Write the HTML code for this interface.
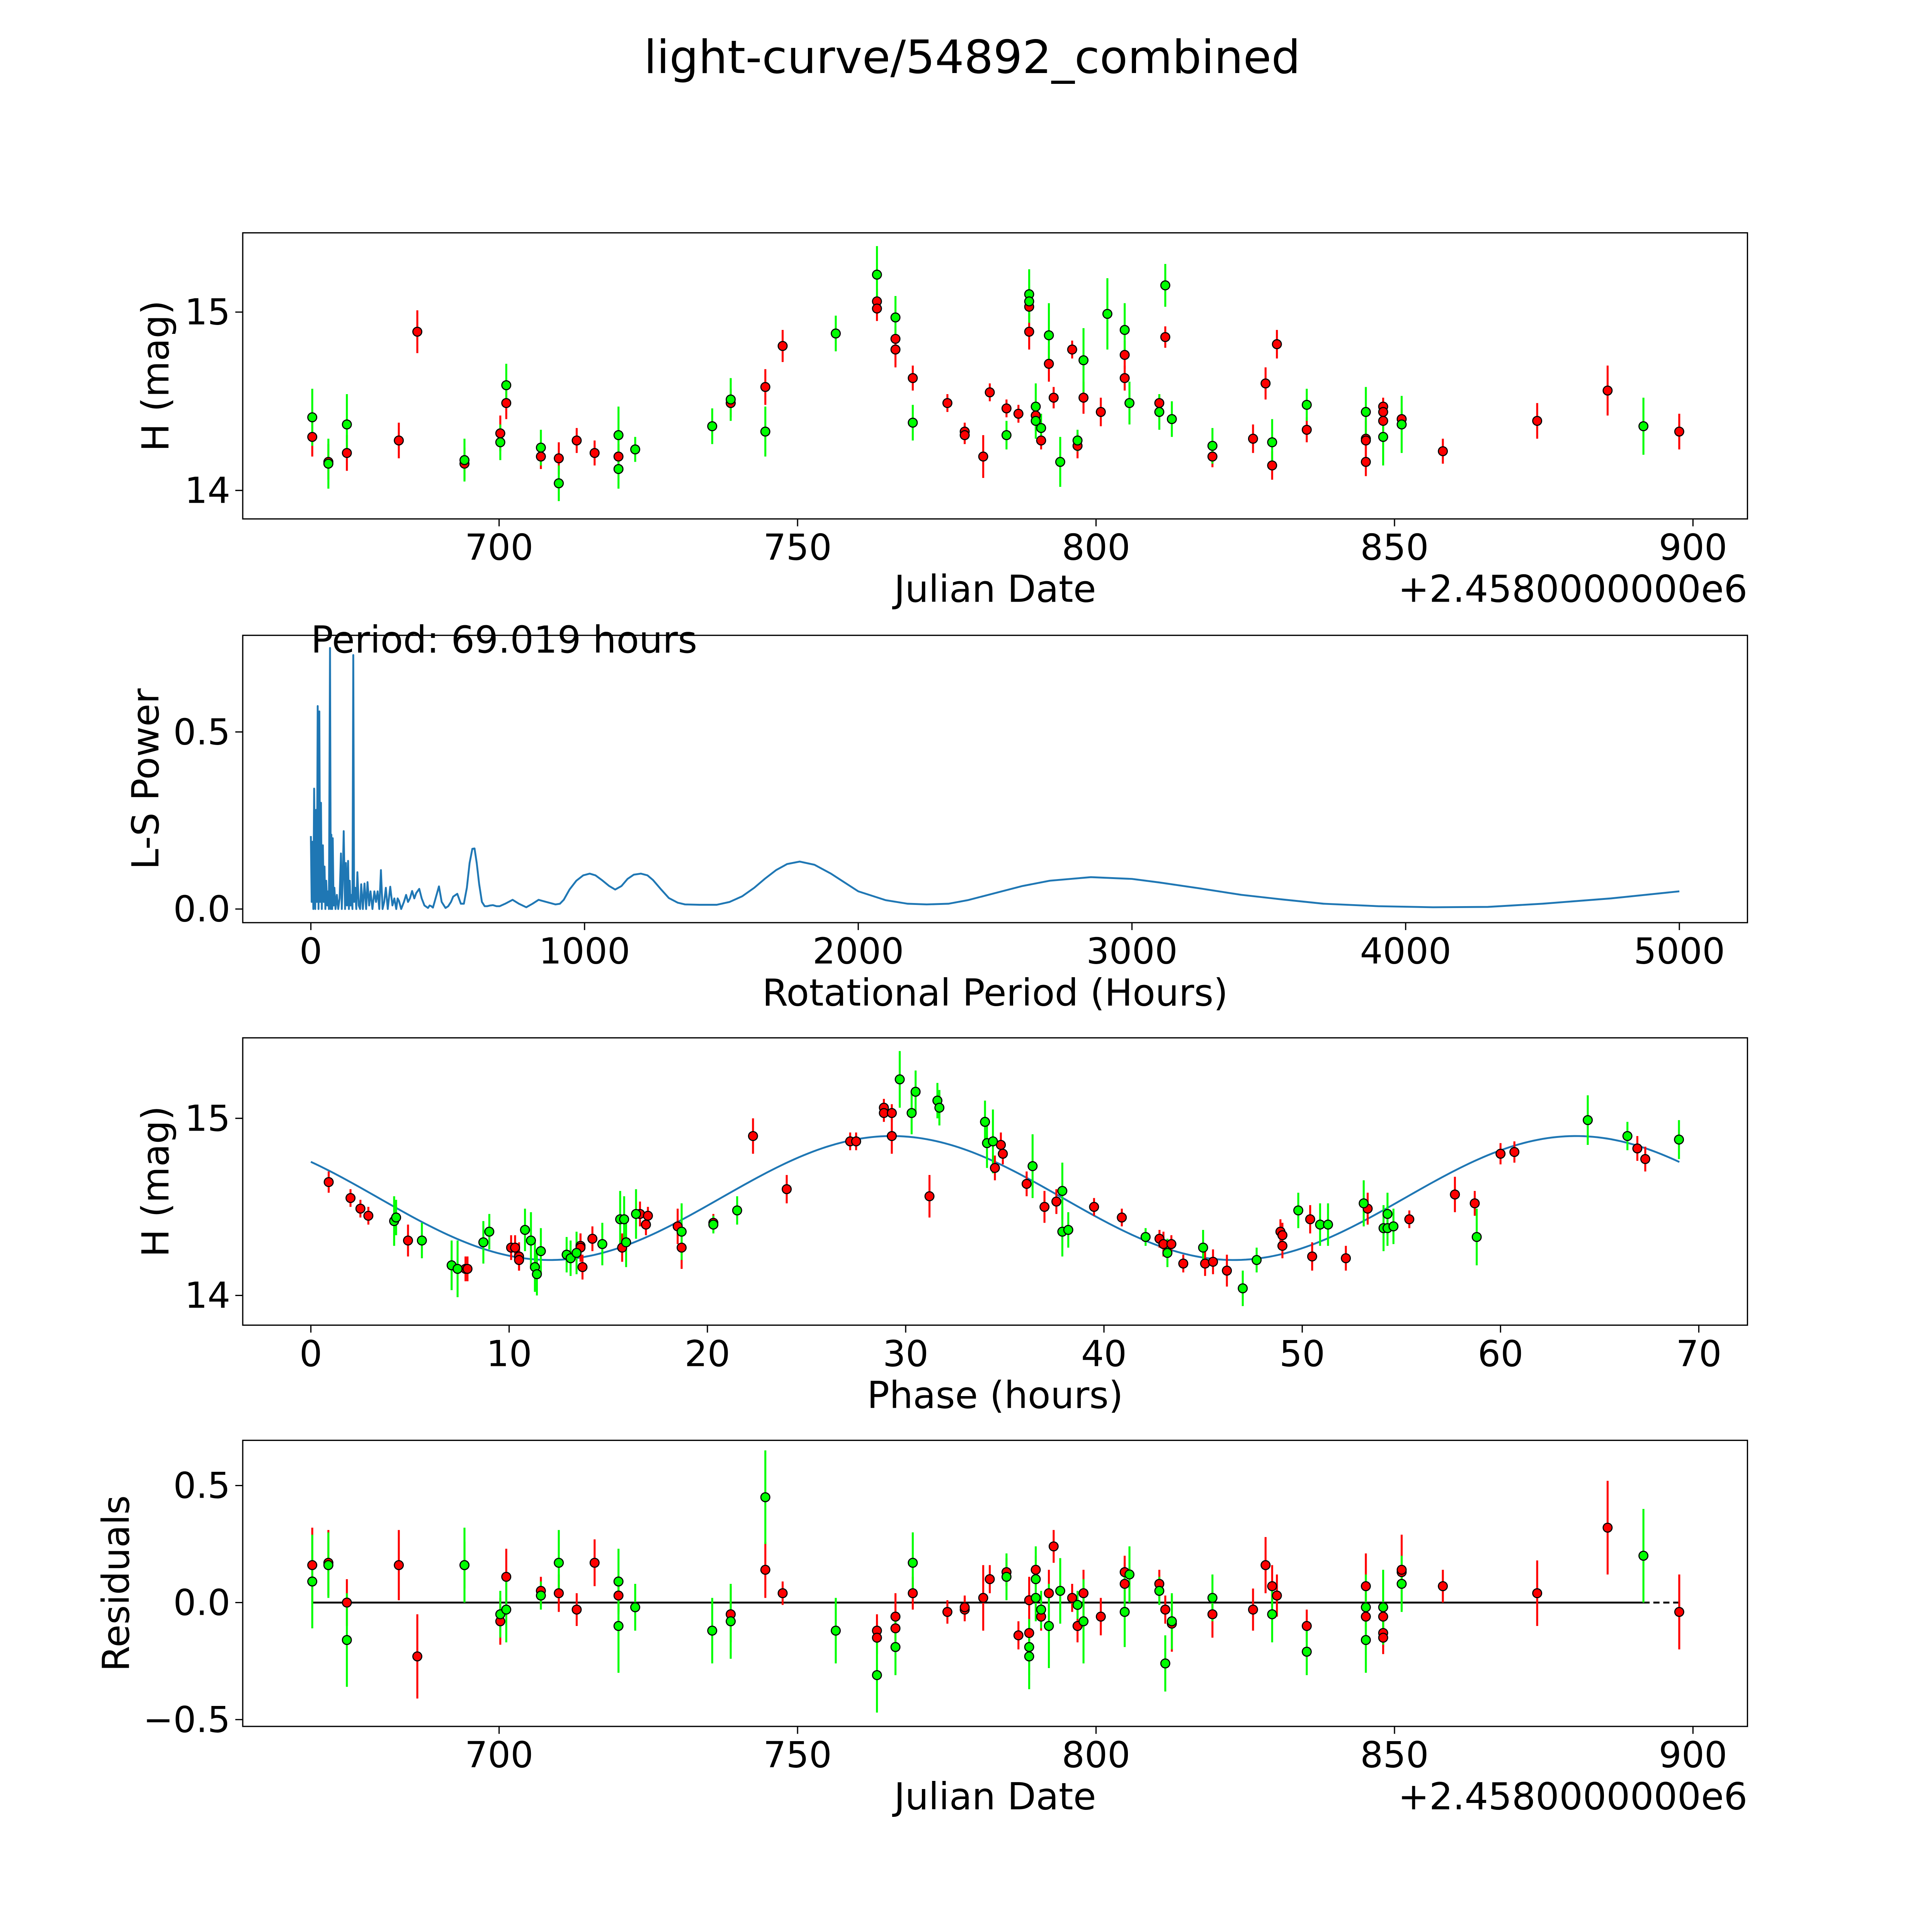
<!DOCTYPE html>
<html><head><meta charset="utf-8"><style>
html,body{margin:0;padding:0;background:#fff;overflow:hidden;width:100%;height:100%}
svg{display:block;width:100vw;height:100vh}
text{font-family:"DejaVu Sans","Liberation Sans",sans-serif;fill:#000}
</style></head><body>
<svg id="fig" xmlns="http://www.w3.org/2000/svg" viewBox="0 0 1560 1560" preserveAspectRatio="xMidYMid meet">
<rect x="0" y="0" width="1560" height="1560" fill="#fff"/>
<text x="785" y="59" font-size="37" text-anchor="middle">light-curve/54892_combined</text>
</svg>
<script>
// ---------- Panel 1: light curve (red / green series) ----------
const jd1R=[668.7,671.4,674.5,683.2,686.3,694.2,700.2,701.2,707,710,713,716,720,738.8,744.6,747.5,763.3,763.3,766.4,766.4,769.3,775.1,778,778,781.1,782.2,785,787,788.8,788.8,789.9,790.8,792.1,792.9,796,796.9,797.9,800.8,804.8,804.8,811.6,810.6,819.5,826.3,828.4,829.5,830.3,835.3,845.2,845.2,845.2,848.1,848.1,848.1,851.2,858.1,873.9,885.7,897.7];
const mag1R=[14.30,14.16,14.21,14.28,14.89,14.15,14.32,14.49,14.19,14.18,14.28,14.21,14.19,14.49,14.58,14.81,15.06,15.02,14.85,14.79,14.63,14.49,14.33,14.31,14.19,14.55,14.46,14.43,15.03,14.89,14.42,14.28,14.71,14.52,14.79,14.25,14.52,14.44,14.76,14.63,14.86,14.49,14.19,14.29,14.60,14.14,14.82,14.34,14.29,14.28,14.16,14.47,14.44,14.39,14.40,14.22,14.39,14.56,14.33];
const err1R=[0.11,0.1,0.1,0.1,0.12,0.09,0.1,0.09,0.07,0.09,0.07,0.07,0.07,0.08,0.1,0.09,0.07,0.07,0.07,0.1,0.07,0.05,0.05,0.05,0.12,0.05,0.05,0.05,0.07,0.1,0.06,0.05,0.1,0.06,0.05,0.07,0.09,0.08,0.08,0.07,0.06,0.05,0.06,0.08,0.09,0.08,0.08,0.07,0.1,0.12,0.08,0.05,0.05,0.07,0.06,0.07,0.1,0.14,0.1];
const jd1G=[668.7,671.4,674.5,694.2,700.2,701.2,707,710,720,720,722.8,735.7,738.8,744.6,756.4,763.3,766.4,769.3,785,788.8,788.8,789.9,789.9,790.8,792.1,794,796.9,797.9,801.9,804.8,805.6,811.6,810.6,812.7,819.5,829.5,835.3,845.2,848.1,851.2,891.7];
const mag1G=[14.41,14.15,14.37,14.17,14.27,14.59,14.24,14.04,14.31,14.12,14.23,14.36,14.51,14.33,14.88,15.21,14.97,14.38,14.31,15.10,15.06,14.47,14.39,14.35,14.87,14.16,14.28,14.73,14.99,14.90,14.49,15.15,14.44,14.40,14.25,14.27,14.48,14.44,14.30,14.37,14.36];
const err1G=[0.16,0.14,0.17,0.12,0.1,0.12,0.1,0.1,0.16,0.11,0.07,0.1,0.12,0.14,0.1,0.16,0.12,0.1,0.08,0.14,0.12,0.13,0.1,0.08,0.18,0.14,0.06,0.18,0.2,0.15,0.12,0.12,0.1,0.1,0.1,0.13,0.09,0.14,0.16,0.16,0.16];
// ---------- Panel 2: periodogram ----------
const per2=[0,3,6,9,12,16,19,22,25,28, 31,34,37,40,44,47,50,53,56,60, 63,66,70,73,75,78,80,83,86,90, 95,100,105,110,113,116,120,125,128,132, 136,139,142,145,148,152,155,158,162,166, 170,175,180,184,190,196,202,207,213,218, 225,232,238,244,250,256,262,268,274,281, 290,298,305,312,317,322,330,340,348,355, 362,370,378,385,396,405,415,428,434,440, 446,452,468,478,492,502,512,520,535,548, 559,570,580,590,598,606,615,625,635,644, 655,665,678,690,710,737,760,787,810,832, 860,894,910,924,945,970,995,1019,1040,1063, 1090,1112,1135,1157,1180,1206,1230,1250,1280,1308, 1340,1367,1420,1483,1530,1576,1620,1658,1700,1740, 1786,1840,1900,1950,2000,2100,2180,2250,2330,2400, 2500,2600,2700,2850,3000,3100,3250,3400,3550,3700, 3900,4100,4300,4500,4750,5000];
const pow2=[0.206,0.02,0.19,0.0,0.34,0.0,0.28,0.02,0.573,0.0, 0.558,0.02,0.3,0.0,0.18,0.02,0.12,0.0,0.08,0.01, 0.05,0.0,0.737,0.0,0.21,0.0,0.2,0.01,0.06,0.0, 0.04,0.0,0.03,0.157,0.0,0.07,0.22,0.0,0.13,0.01, 0.136,0.0,0.08,0.01,0.04,0.0,0.717,0.02,0.06,0.0, 0.104,0.01,0.0,0.07,0.0,0.072,0.0,0.076,0.01,0.05, 0.0,0.05,0.02,0.05,0.0,0.11,0.0,0.02,0.06,0.0, 0.063,0.01,0.03,0.0,0.03,0.023,0.0,0.02,0.04,0.02, 0.03,0.051,0.03,0.045,0.057,0.03,0.01,0.003,0.01,0.008, 0.004,0.02,0.064,0.02,0.003,0.008,0.02,0.035,0.043,0.015, 0.015,0.06,0.13,0.17,0.171,0.13,0.07,0.02,0.008,0.008, 0.01,0.011,0.008,0.008,0.015,0.026,0.015,0.005,0.015,0.026, 0.02,0.013,0.015,0.026,0.055,0.08,0.095,0.1,0.095,0.082, 0.065,0.055,0.065,0.085,0.097,0.1,0.095,0.082,0.055,0.031, 0.018,0.013,0.012,0.012,0.02,0.036,0.06,0.085,0.11,0.127, 0.134,0.125,0.1,0.075,0.05,0.025,0.015,0.013,0.015,0.025, 0.045,0.065,0.08,0.09,0.085,0.075,0.058,0.04,0.027,0.015, 0.008,0.005,0.006,0.015,0.03,0.05];
// ---------- Panel 3: phased light curve ----------
const ph3R=[0.9,2.0,2.5,2.9,4.9,7.8,7.9,10.1,10.3,10.5,10.5,13.6,13.7,13.6,14.2,15.7,16.6,17.0,16.9,18.5,18.7,20.3,22.3,24.0,27.2,27.5,28.9,28.9,29.3,29.3,31.2,34.5,34.8,34.9,36.1,37.0,37.6,39.5,40.9,42.8,43.0,43.4,44.0,45.1,45.5,46.2,48.9,49.0,49.0,50.4,50.5,52.2,53.3,55.4,57.7,58.7,60.0,60.7,66.9,67.3];
const mag3R=[14.64,14.55,14.49,14.45,14.31,14.15,14.15,14.27,14.27,14.22,14.20,14.28,14.16,14.27,14.32,14.27,14.46,14.45,14.40,14.39,14.27,14.41,14.90,14.60,14.87,14.87,15.06,15.03,15.03,14.90,14.56,14.72,14.85,14.80,14.63,14.50,14.53,14.50,14.44,14.32,14.29,14.29,14.18,14.18,14.19,14.14,14.36,14.34,14.28,14.43,14.22,14.21,14.49,14.43,14.57,14.52,14.80,14.81,14.83,14.77];
const err3R=[0.06,0.05,0.05,0.05,0.09,0.07,0.07,0.07,0.07,0.08,0.06,0.07,0.07,0.08,0.07,0.08,0.07,0.05,0.06,0.1,0.12,0.05,0.1,0.08,0.05,0.05,0.05,0.05,0.05,0.1,0.12,0.07,0.07,0.06,0.07,0.09,0.07,0.05,0.05,0.05,0.07,0.05,0.05,0.07,0.07,0.09,0.07,0.07,0.07,0.08,0.08,0.07,0.09,0.05,0.1,0.07,0.06,0.06,0.07,0.07];
const ph3G=[4.2,4.3,5.6,7.1,7.4,8.7,9.0,10.8,11.1,11.3,11.4,11.6,12.9,13.1,13.4,14.7,15.6,15.8,15.9,16.4,18.7,20.3,21.5,29.7,30.3,30.5,31.6,31.7,34.0,34.1,34.4,36.4,37.9,37.9,38.2,42.1,43.2,45.0,47.0,47.7,49.8,50.9,51.3,53.1,54.1,54.3,54.3,54.6,58.8,64.4,66.4,69.0];
const mag3G=[14.42,14.44,14.31,14.17,14.15,14.30,14.36,14.37,14.31,14.16,14.12,14.25,14.23,14.21,14.24,14.29,14.43,14.43,14.30,14.46,14.36,14.40,14.48,15.22,15.03,15.15,15.10,15.06,14.98,14.86,14.87,14.73,14.59,14.36,14.37,14.33,14.24,14.27,14.04,14.20,14.48,14.40,14.40,14.52,14.38,14.46,14.38,14.39,14.33,14.99,14.90,14.88];
const err3G=[0.14,0.1,0.1,0.14,0.16,0.12,0.1,0.12,0.16,0.14,0.12,0.13,0.1,0.1,0.12,0.12,0.16,0.13,0.14,0.14,0.16,0.05,0.08,0.16,0.12,0.12,0.1,0.1,0.12,0.14,0.18,0.18,0.16,0.14,0.1,0.05,0.08,0.1,0.1,0.07,0.1,0.12,0.12,0.13,0.13,0.12,0.1,0.1,0.16,0.14,0.08,0.11];
const fitMean=14.55, fitAmp=0.35, fitPeak=29.3, fitCycle=34.5, fitSpan=69.019;
// ---------- Panel 4: residuals ----------
const jd4R=[668.7,671.4,674.5,683.2,686.3,694.2,700.2,701.2,707,710,713,716,720,738.8,744.6,747.5,763.3,763.3,766.4,766.4,769.3,775.1,778,778,781.1,782.2,785,787,788.8,788.8,789.9,790.8,792.1,792.9,796,796.9,797.9,800.8,804.8,804.8,811.6,810.6,812.7,819.5,826.3,828.4,829.5,830.3,835.3,845.2,845.2,848.1,848.1,848.1,851.2,851.2,858.1,873.9,885.7,897.7];
const res4R=[0.16,0.17,0.0,0.16,-0.23,0.16,-0.08,0.11,0.05,0.04,-0.03,0.17,0.03,-0.05,0.14,0.04,-0.12,-0.15,-0.11,-0.06,0.04,-0.04,-0.03,-0.02,0.02,0.10,0.13,-0.14,-0.13,0.01,0.14,-0.06,0.04,0.24,0.02,-0.10,0.04,-0.06,0.08,0.13,-0.03,0.08,-0.09,-0.05,-0.03,0.16,0.07,0.03,-0.10,0.07,-0.06,-0.06,-0.13,-0.15,0.13,0.14,0.07,0.04,0.32,-0.04];
const err4R=[0.16,0.14,0.1,0.15,0.18,0.1,0.1,0.12,0.06,0.08,0.07,0.1,0.07,0.12,0.12,0.05,0.07,0.07,0.07,0.1,0.07,0.05,0.05,0.05,0.14,0.06,0.06,0.06,0.07,0.1,0.06,0.06,0.1,0.07,0.06,0.07,0.1,0.08,0.09,0.07,0.06,0.06,0.12,0.1,0.09,0.12,0.09,0.09,0.07,0.14,0.1,0.06,0.06,0.07,0.16,0.06,0.07,0.14,0.2,0.16];
const jd4G=[668.7,671.4,674.5,694.2,700.2,701.2,707,710,720,720,722.8,735.7,738.8,744.6,756.4,763.3,766.4,769.3,785,788.8,788.8,789.9,789.9,790.8,792.1,794,796.9,797.9,805.6,804.8,811.6,810.6,812.7,819.5,829.5,835.3,845.2,845.2,848.1,851.2,891.7];
const res4G=[0.09,0.16,-0.16,0.16,-0.05,-0.03,0.03,0.17,0.09,-0.10,-0.02,-0.12,-0.08,0.45,-0.12,-0.31,-0.19,0.17,0.11,-0.23,-0.19,0.10,0.02,-0.03,-0.10,0.05,-0.01,-0.08,0.12,-0.04,-0.26,0.05,-0.08,0.02,-0.05,-0.21,-0.02,-0.16,-0.02,0.08,0.20];
const err4G=[0.2,0.14,0.2,0.16,0.1,0.14,0.06,0.14,0.14,0.2,0.1,0.14,0.16,0.2,0.14,0.16,0.12,0.13,0.1,0.14,0.12,0.14,0.1,0.08,0.18,0.14,0.06,0.18,0.12,0.15,0.12,0.06,0.12,0.1,0.12,0.1,0.14,0.14,0.16,0.12,0.2];

const NS='http://www.w3.org/2000/svg';
const svg=document.getElementById('fig');
function mk(tag,attrs,parent){const e=document.createElementNS(NS,tag);for(const k in attrs)e.setAttribute(k,attrs[k]);(parent||svg).appendChild(e);return e;}

const P1={l:196,r:1411,t:188,b:419,sx:v=>403+(v-700)*4.82,sy:v=>396-(v-14)*144};
const P2={l:196,r:1411,t:513,b:745,sx:v=>251+v*0.221,sy:v=>734-v*286};
const P3={l:196,r:1411,t:838,b:1070,sx:v=>251+v*16.01,sy:v=>1046-(v-14)*143};
const P4={l:196,r:1411,t:1163,b:1394,sx:v=>403+(v-700)*4.82,sy:v=>1294-v*189};

function axes(P,name,xt,xl,yt,yl,xlabel,ylabel,ylx,offset){
  const g=mk('g',{});
  
  
  const fr=mk('rect',{x:P.l,y:P.t,width:P.r-P.l,height:P.b-P.t,fill:'none',stroke:'#000','stroke-width':1},g);
  
  
  xt.forEach((v,i)=>{const x=P.sx(v);
    const tk=mk('line',{x1:x,x2:x,y1:P.b,y2:P.b+6,stroke:'#000','stroke-width':1},g);
    
    
    const t=mk('text',{x:x,y:P.b+33,'font-size':29,'text-anchor':'middle'},g);t.textContent=xl[i];
    
    });
  yt.forEach((v,i)=>{const y=P.sy(v);
    const tk=mk('line',{x1:P.l-6,x2:P.l,y1:y,y2:y,stroke:'#000','stroke-width':1},g);
    
    
    const t=mk('text',{x:P.l-10,y:y+10,'font-size':29,'text-anchor':'end'},g);t.textContent=yl[i];
    
    });
  const xla=mk('text',{x:(P.l+P.r)/2,y:P.b+67,'font-size':30,'text-anchor':'middle'},g);xla.textContent=xlabel;
  
  
  const cy=(P.t+P.b)/2;
  const yla=mk('text',{x:ylx,y:cy,'font-size':30,'text-anchor':'middle',transform:`rotate(-90 ${ylx} ${cy})`},g);yla.textContent=ylabel;
  
  
  if(offset){const o=mk('text',{x:P.r,y:P.b+67,'font-size':30,'text-anchor':'end'},g);o.textContent=offset;
    
    }
  return g;
}
function series(P,xs,ys,es,c,name){
  const g=mk('g',{});
  
  
  xs.forEach((v,i)=>{const x=P.sx(v);
    const eb=mk('line',{x1:x,x2:x,y1:P.sy(ys[i]-es[i]),y2:P.sy(ys[i]+es[i]),stroke:c,'stroke-width':1.6},g);
    
    });
  return g;
}
function marks(P,xs,ys,c,g){
  xs.forEach((v,i)=>{
    const pt=mk('circle',{cx:P.sx(v),cy:P.sy(ys[i]),r:3.6,fill:c,stroke:'#000','stroke-width':0.9},g);
    
    });
}
function plotPair(P,xR,yR,eR,xG,yG,eG,name){
  const gR=series(P,xR,yR,eR,'#ff0000',name+'-red');
  const gG=series(P,xG,yG,eG,'#00ff00',name+'-green');
  marks(P,xR,yR,'#ff0000',gG);
  marks(P,xG,yG,'#00ff00',gG);
}
const jdT=[700,750,800,850,900], jdL=['700','750','800','850','900'];
axes(P1,'light-curve-axes',jdT,jdL,[14,15],['14','15'],'Julian Date','H (mag)',136,'+2.4580000000e6');
plotPair(P1,jd1R,mag1R,err1R,jd1G,mag1G,err1G,'light-curve-points');

axes(P2,'periodogram-axes',[0,1000,2000,3000,4000,5000],['0','1000','2000','3000','4000','5000'],[0,0.5],['0.0','0.5'],'Rotational Period (Hours)','L-S Power',128,null);
const pl=mk('polyline',{points:per2.map((p,i)=>P2.sx(p).toFixed(2)+','+P2.sy(pow2[i]||0).toFixed(2)).join(' '),fill:'none',stroke:'#1f77b4','stroke-width':1.5,'stroke-linejoin':'round'});


const pt=mk('text',{x:251,y:527,'font-size':30});pt.textContent='Period: 69.019 hours';



axes(P3,'phase-axes',[0,10,20,30,40,50,60,70],['0','10','20','30','40','50','60','70'],[14,15],['14','15'],'Phase (hours)','H (mag)',136,null);
const fitPts=[];for(let k=0;k<=300;k++){const ph=fitSpan*k/300;fitPts.push(P3.sx(ph).toFixed(2)+','+P3.sy(fitMean+fitAmp*Math.cos(2*Math.PI*(ph-fitPeak)/fitCycle)).toFixed(2));}
const fl=mk('polyline',{points:fitPts.join(' '),fill:'none',stroke:'#1f77b4','stroke-width':1.5});


plotPair(P3,ph3R,mag3R,err3R,ph3G,mag3G,err3G,'phase-points');

axes(P4,'residuals-axes',jdT,jdL,[-0.5,0,0.5],['\u22120.5','0.0','0.5'],'Julian Date','Residuals',104,'+2.4580000000e6');
const zl=mk('line',{x1:P4.sx(668.7),x2:P4.sx(891.7),y1:P4.sy(0),y2:P4.sy(0),stroke:'#000','stroke-width':1.5});


const zd=mk('line',{x1:P4.sx(891.7),x2:P4.sx(897.7),y1:P4.sy(0),y2:P4.sy(0),stroke:'#000','stroke-width':1.5,'stroke-dasharray':'5,3'});


plotPair(P4,jd4R,res4R,err4R,jd4G,res4G,err4G,'residual-points');
</script>
</body></html>
